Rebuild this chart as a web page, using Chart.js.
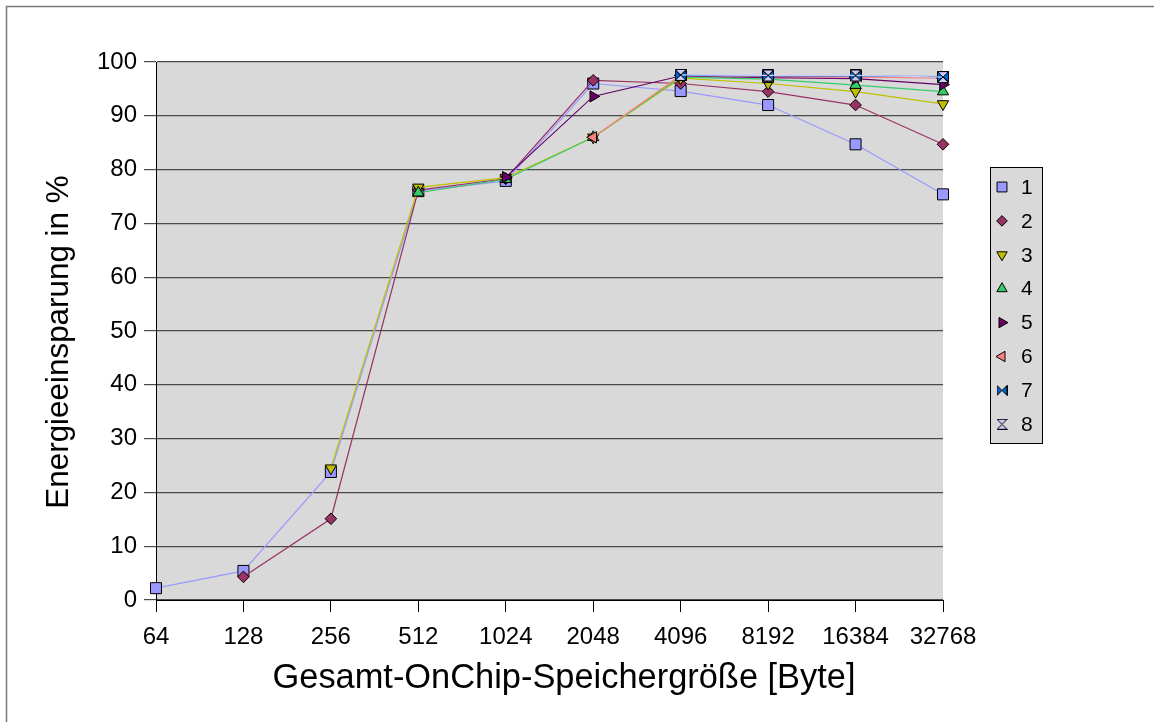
<!DOCTYPE html>
<html><head><meta charset="utf-8">
<script src="https://cdn.jsdelivr.net/npm/chart.js@4.4.0/dist/chart.umd.min.js"></script>
<style>html,body{margin:0;padding:0;background:#fff}#wrap{width:1154px;height:722px;position:relative}</style>
</head><body><div id="wrap"><canvas id="c" width="1154" height="722"></canvas></div>
<script>
const categories = ['64','128','256','512','1024','2048','4096','8192','16384','32768'];
const seriesNames = ['1','2','3','4','5','6','7','8'];
const s1 = [2.2, 5.4, 23.8, 76.0, 77.9, 96.0, 94.6, 92.0, 84.7, 75.4];
const s2 = [null, 4.3, 15.1, 76.2, 78.3, 96.6, 96.0, 94.5, 92.0, 84.7];
const s3 = [null, null, 24.5, 76.7, 78.5, 86.0, 97.0, 96.0, 94.5, 92.2];
const s4 = [null, null, null, 75.7, 78.2, 86.0, 97.2, 96.8, 95.7, 94.5];
const s5 = [null, null, null, null, 78.6, 93.6, 97.4, 97.1, 96.9, 95.8];
const s6 = [null, null, null, null, null, 86.0, 97.5, 97.3, 97.2, 97.0];
const s7 = [null, null, null, null, null, null, 97.5, 97.4, 97.4, 97.3];
const s8 = [null, null, null, null, null, null, 97.6, 97.5, 97.5, 97.2];
const seriesValues = [s1, s2, s3, s4, s5, s6, s7, s8];
const yMin = 0, yMax = 100, yStep = 10;
const xTitle = 'Gesamt-OnChip-Speichergröße [Byte]';
const yTitle = 'Energieeinsparung in %';

const colors = ['#9999FF','#993366','#BFBF00','#33CC66','#660066','#FF8080','#0066CC','#CCCCFF'];

function makeMarker(type, fill, s) {
  const c = document.createElement('canvas');
  c.width = s; c.height = s;
  const g = c.getContext('2d');
  g.fillStyle = fill; g.strokeStyle = '#000'; g.lineWidth = 1;
  const a = 0.5, b = s - 0.5, m = s / 2;
  g.beginPath();
  if (type === 'bowtie') {
    g.moveTo(a, a); g.lineTo(m, m); g.lineTo(a, b); g.closePath();
    g.moveTo(b, a); g.lineTo(m, m); g.lineTo(b, b); g.closePath();
  } else {
    g.moveTo(a, a); g.lineTo(b, a); g.lineTo(m, m); g.closePath();
    g.moveTo(a, b); g.lineTo(b, b); g.lineTo(m, m); g.closePath();
  }
  g.fill(); g.stroke();
  return c;
}

const styles = [
  {pointStyle: 'rect', rotation: 0, radius: 7.8},
  {pointStyle: 'rectRot', rotation: 0, radius: 5.8},
  {pointStyle: 'triangle', rotation: 180, radius: 6.5},
  {pointStyle: 'triangle', rotation: 0, radius: 6.5},
  {pointStyle: 'triangle', rotation: 90, radius: 6.5},
  {pointStyle: 'triangle', rotation: 270, radius: 6.5},
  {pointStyle: makeMarker('bowtie', colors[6], 12), rotation: 0, radius: 6},
  {pointStyle: makeMarker('hourglass', colors[7], 12), rotation: 0, radius: 6}
];
const legendStyles = [
  {pointStyle: 'rect', rotation: 0, radius: 7},
  {pointStyle: 'rectRot', rotation: 0, radius: 5.3},
  {pointStyle: 'triangle', rotation: 180, radius: 6},
  {pointStyle: 'triangle', rotation: 0, radius: 6},
  {pointStyle: 'triangle', rotation: 90, radius: 6},
  {pointStyle: 'triangle', rotation: 270, radius: 6},
  {pointStyle: makeMarker('bowtie', colors[6], 11), rotation: 0, radius: 5.5},
  {pointStyle: makeMarker('hourglass', colors[7], 11), rotation: 0, radius: 5.5}
];

const datasets = seriesValues.map((vals, i) => ({
  label: seriesNames[i],
  data: vals,
  borderColor: colors[i],
  backgroundColor: colors[i],
  borderWidth: 1.2,
  pointStyle: styles[i].pointStyle,
  pointRotation: styles[i].rotation,
  pointRadius: styles[i].radius,
  pointHoverRadius: styles[i].radius,
  pointBackgroundColor: colors[i],
  pointBorderColor: '#000',
  pointBorderWidth: 1,
  tension: 0,
  spanGaps: false,
  clip: false,
  order: seriesValues.length - i
}));

const FONT = "'Liberation Sans', Arial, sans-serif";

const framePlugin = {
  id: 'frame',
  beforeDraw(chart) {
    const ctx = chart.ctx, ca = chart.chartArea;
    ctx.save();
    ctx.fillStyle = '#fff';
    ctx.fillRect(0, 0, chart.width, chart.height);
    ctx.strokeStyle = '#7a7a7a';
    ctx.lineWidth = 1.5;
    ctx.beginPath();
    ctx.moveTo(6.5, chart.height); ctx.lineTo(6.5, 6.5); ctx.lineTo(chart.width, 6.5);
    ctx.stroke();
    ctx.fillStyle = '#D9D9D9';
    ctx.fillRect(ca.left, ca.top, ca.right - ca.left, ca.bottom - ca.top);
    ctx.restore();
  },
  afterDraw(chart) {
    const ctx = chart.ctx;
    ctx.save();
    // axis titles
    ctx.fillStyle = '#000';
    ctx.textAlign = 'center';
    ctx.textBaseline = 'alphabetic';
    ctx.font = '34.4px ' + FONT;
    ctx.fillText(xTitle, 564, 688);
    ctx.save();
    ctx.translate(68, 342);
    ctx.rotate(-Math.PI / 2);
    ctx.font = '31.4px ' + FONT;
    ctx.fillText(yTitle, 0, 0);
    ctx.restore();
    // legend
    const lx = 990, ly = 167, lw = 52, lh = 276;
    ctx.fillStyle = '#D9D9D9';
    ctx.fillRect(lx, ly, lw, lh);
    ctx.strokeStyle = '#000';
    ctx.lineWidth = 1;
    ctx.strokeRect(lx + 0.5, ly + 0.5, lw, lh);
    ctx.font = '21px ' + FONT;
    ctx.textBaseline = 'middle';
    ctx.textAlign = 'left';
    seriesNames.forEach((name, i) => {
      const y = 187 + i * 33.9;
      ctx.fillStyle = colors[i];
      ctx.strokeStyle = '#000';
      ctx.lineWidth = 1;
      const st = legendStyles[i];
      if (Chart.helpers && Chart.helpers.drawPoint) {
        Chart.helpers.drawPoint(ctx, {pointStyle: st.pointStyle, rotation: st.rotation, radius: st.radius, borderWidth: 1}, 1002, y);
      }
      ctx.fillStyle = '#000';
      ctx.fillText(name, 1021, y + 1);
    });
    ctx.restore();
  }
};

new Chart(document.getElementById('c'), {
  type: 'line',
  data: {labels: categories, datasets},
  options: {
    responsive: false,
    animation: false,
    devicePixelRatio: 1,
    layout: {padding: {left: 0, top: 62, right: 211, bottom: 0}},
    plugins: {legend: {display: false}, tooltip: {enabled: false}},
    scales: {
      x: {
        type: 'category',
        offset: false,
        grid: {display: true, drawOnChartArea: false, drawTicks: true, tickLength: 12, color: '#000', offset: false},
        border: {display: true, color: '#000', width: 1},
        ticks: {color: '#000', font: {family: FONT, size: 24}, padding: 11, maxRotation: 0, autoSkip: false},
        title: {display: false, text: xTitle},
        afterFit(scale) { scale.height = 122; }
      },
      y: {
        min: yMin, max: yMax,
        grid: {color: '#4a4a4a', lineWidth: 1.2, tickLength: 12, tickColor: '#4a4a4a'},
        border: {display: true, color: '#000', width: 1},
        ticks: {stepSize: yStep, color: '#000', font: {family: FONT, size: 24}, padding: 7},
        title: {display: false, text: yTitle},
        afterFit(scale) { scale.width = 156; }
      }
    }
  },
  plugins: [framePlugin]
});
</script></body></html>
